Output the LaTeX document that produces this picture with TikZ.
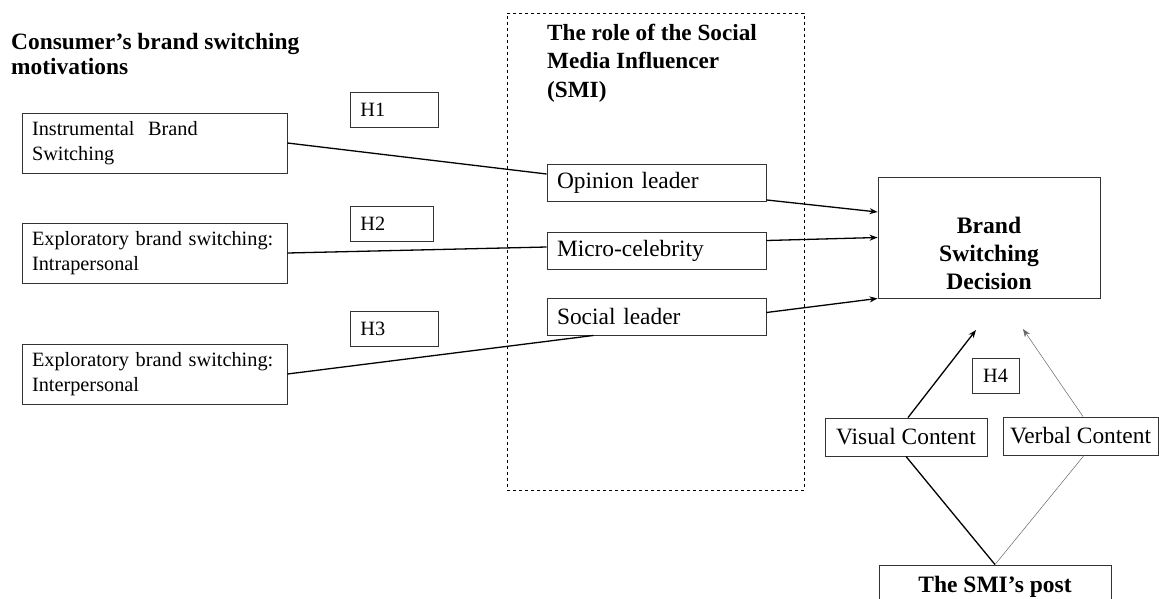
\documentclass[tikz,border=0pt]{standalone}
\usepackage{fontspec}
\setmainfont{Liberation Serif}
\usetikzlibrary{arrows.meta}

\begin{document}
\begin{tikzpicture}[x=1pt,y=-1pt,
  box/.style={draw=black!80,line width=0.9pt,inner sep=0pt,font=\fontsize{20.3}{25}\selectfont},
  leftbox/.style={box,minimum width=265pt,minimum height=60pt,text width=245pt,align=left},
  midbox/.style={box,minimum width=219pt,minimum height=37pt,text width=199pt,align=left,font=\fontsize{23.4}{28}\selectfont},
  hbox/.style={box,minimum height=35pt,inner xsep=10pt,align=left,anchor=west},
  contbox/.style={box,minimum height=38pt,align=center,font=\fontsize{23.4}{28}\selectfont},
  heading/.style={inner sep=0pt,anchor=north west,align=left,font=\bfseries\fontsize{23.4}{25}\selectfont},
  link/.style={line width=1.3pt},
  thinlink/.style={line width=0.5pt,black!60},
  arr/.style={link,-{Stealth[length=8pt,width=6pt]}}]
 \useasboundingbox (0,0) rectangle (1159,598);
 \clip (0,0) rectangle (1159,598);

 % motivations
 \node[heading] (motiv) at (11,33.5) {Consumer’s brand switching\\motivations};
 \node[leftbox] (instr) at (154.5,143) {Instrumental\ \ Brand\\Switching};
 \node[leftbox] (intra) at (154.5,253) {Exploratory brand switching:\\Intrapersonal};
 \node[leftbox] (inter) at (154.5,374) {Exploratory brand switching:\\Interpersonal};
 \node[hbox,text width=68pt] (h1) at (350,109.5) {H1};
 \node[hbox,text width=63pt] (h2) at (350,224) {H2};
 \node[hbox,text width=68pt] (h3) at (350,329) {H3};

 % role of the SMI
 \node[draw,dashed,line width=0.8pt,minimum width=297pt,minimum height=477pt] (smi) at (655.5,251.5) {};
 \node[heading,font=\bfseries\fontsize{23.2}{28.5}\selectfont] (smititle) at (547,23.5) {The role of the Social\\Media Influencer\\(SMI)};
 \node[midbox] (opinion) at (656.5,183) {Opinion leader};
 \node[midbox] (micro) at (656.5,250.5) {Micro-celebrity};
 \node[midbox] (social) at (656.5,316.5) {Social leader};

 % decision and post
 \node[box,minimum width=222pt,minimum height=121pt,
   label={[yshift=-16pt,align=center,font=\bfseries\fontsize{23.6}{28}\selectfont]center:Brand\\Switching\\Decision}] (decision) at (989,237.5) {};
 \node[contbox,minimum width=162pt] (visual) at (906,437) {Visual Content};
 \node[contbox,minimum width=155pt] (verbal) at (1080.5,436) {Verbal Content};
 \node[hbox,anchor=center,minimum width=47pt,inner xsep=0pt] (h4) at (995.5,375.5) {H4};
 \node[box,minimum width=232pt,minimum height=44pt,font=\bfseries\fontsize{23.5}{25}\selectfont] (post) at (995,587) {The SMI’s post};
 \coordinate (vtip) at (976,330);
 \coordinate (btip) at (1023,329);

 \draw[link] (instr.east) -- ([yshift=9pt]opinion.west);
 \draw[link] (intra.east) -- ([yshift=3.5pt]micro.west);
 \draw[link] (inter.east) -- ([xshift=-63pt]social.south);
 \draw[arr] ([yshift=2pt]opinion.south east) -- ([yshift=25.5pt]decision.west);
 \draw[arr] ([yshift=10pt]micro.east) -- (decision.west);
 \draw[arr] ([yshift=4pt]social.east) -- (decision.south west);
 \draw[arr] ([xshift=2pt]visual.north) -- (vtip);
 \draw[thinlink,-{Stealth[length=8pt,width=6pt]}] ([xshift=2.5pt]verbal.north) -- (btip);
 \draw[link] (visual.south) -- (post.north);
 \draw[thinlink] ([xshift=3.5pt]verbal.south) -- (post.north);
\end{tikzpicture}
\end{document}
